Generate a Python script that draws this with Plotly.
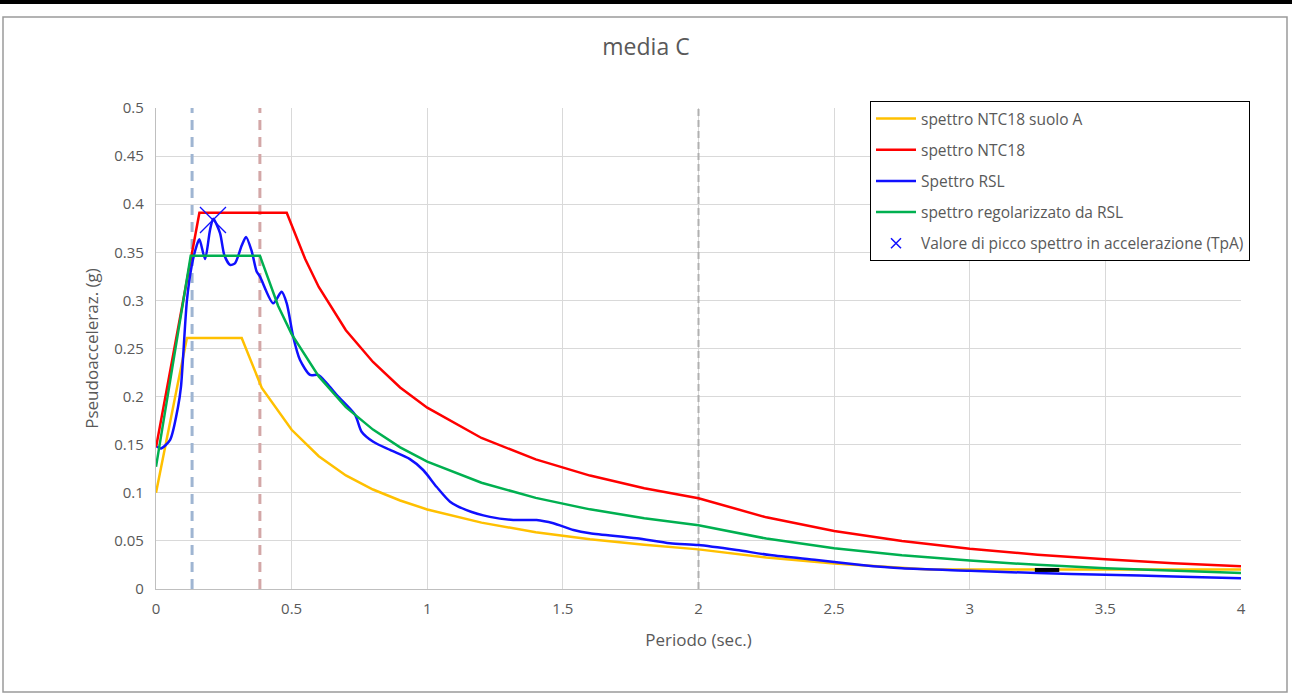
import plotly.graph_objects as go

# spettro NTC18 suolo A
t_a = [0, 0.114, 0.316, 0.39, 0.5, 0.6, 0.7, 0.8, 0.9, 1.0, 1.2, 1.4, 1.6, 1.8, 2.0,
       2.25, 2.5, 2.75, 2.85, 3.0, 3.5, 4.0]
sa_a = [0.1, 0.261, 0.261, 0.209, 0.1655, 0.138, 0.118, 0.1034, 0.092, 0.0827, 0.069,
        0.059, 0.0517, 0.046, 0.0412, 0.0327, 0.0265, 0.0219, 0.0204, 0.0202, 0.0202, 0.0202]

# spettro NTC18
t_ntc = [0, 0.16, 0.482, 0.55, 0.6, 0.7, 0.8, 0.9, 1.0, 1.2, 1.4, 1.6, 1.8, 2.0,
         2.25, 2.5, 2.75, 3.0, 3.25, 3.5, 3.75, 4.0]
sa_ntc = [0.147, 0.391, 0.391, 0.343, 0.314, 0.269, 0.236, 0.2095, 0.1885, 0.157, 0.1347,
          0.1179, 0.1048, 0.0943, 0.0745, 0.0604, 0.0499, 0.0419, 0.0357, 0.0308, 0.0268, 0.0236]

# Spettro RSL
t_rsl = [0.004, 0.018, 0.052, 0.081, 0.092, 0.114, 0.131, 0.15, 0.16, 0.181, 0.199, 0.211,
         0.236, 0.252, 0.273, 0.291, 0.316, 0.332, 0.353, 0.371, 0.383, 0.432, 0.463, 0.482,
         0.506, 0.531, 0.568, 0.598, 0.629, 0.672, 0.734, 0.758, 0.801, 0.863, 0.936, 0.985,
         1.035, 1.084, 1.145, 1.231, 1.317, 1.403, 1.465, 1.539, 1.6, 1.772, 1.895, 2.0,
         2.141, 2.264, 2.436, 2.6, 2.75, 3.0, 3.25, 3.5, 3.75, 4.0]
sa_rsl = [0.148, 0.146, 0.155, 0.189, 0.21, 0.3, 0.335, 0.357, 0.3635, 0.343, 0.373, 0.385,
          0.37, 0.347, 0.337, 0.3385, 0.357, 0.366, 0.351, 0.33, 0.325, 0.297, 0.309, 0.297,
          0.262, 0.238, 0.2225, 0.2225, 0.214, 0.2, 0.181, 0.1635, 0.153, 0.1445, 0.135, 0.1237,
          0.106, 0.0908, 0.082, 0.075, 0.0717, 0.0717, 0.0683, 0.0613, 0.0579, 0.0527, 0.0475, 0.0457,
          0.0405, 0.0353, 0.0301, 0.025, 0.0215, 0.019, 0.0166, 0.0148, 0.013, 0.0111]

# spettro regolarizzato da RSL
t_reg = [0, 0.128, 0.383, 0.45, 0.5, 0.6, 0.7, 0.8, 0.9, 1.0, 1.2, 1.4, 1.6, 1.8, 2.0,
         2.25, 2.5, 2.75, 3.0, 3.25, 3.5, 3.75, 4.0]
sa_reg = [0.127, 0.3465, 0.3465, 0.2945, 0.265, 0.221, 0.189, 0.1657, 0.1473, 0.1325, 0.1105,
          0.0947, 0.0828, 0.0736, 0.0663, 0.0524, 0.0424, 0.0351, 0.0295, 0.0251, 0.0216, 0.0189, 0.0166]

# valore di picco (TpA)
t_peak = [0.21]
sa_peak = [0.3836]

# linee verticali tratteggiate
t_tb = [0.133, 0.133]
t_tc = [0.383, 0.383]
t_td = [2.0, 2.0]
v_lim = [0, 0.5]

# piccolo segmento nero
t_blk = [3.24, 3.33]
sa_blk = [0.0198, 0.0198]

fig = go.Figure()

fig.add_trace(go.Scatter(x=t_tb, y=v_lim, mode="lines", showlegend=False, hoverinfo="skip",
                         line=dict(color="#9fb5d2", width=3, dash="10px,7px")))
fig.add_trace(go.Scatter(x=t_tc, y=v_lim, mode="lines", showlegend=False, hoverinfo="skip",
                         line=dict(color="#d3a7a7", width=3, dash="10px,7px")))
fig.add_trace(go.Scatter(x=t_td, y=v_lim, mode="lines", showlegend=False, hoverinfo="skip",
                         line=dict(color="#b0b0b0", width=2, dash="7px,4px")))

fig.add_trace(go.Scatter(x=t_a, y=sa_a, mode="lines", name="spettro NTC18 suolo A",
                         legendgroup="a", line=dict(color="#ffc000", width=2.5)))
fig.add_trace(go.Scatter(x=t_ntc, y=sa_ntc, mode="lines", name="spettro NTC18",
                         legendgroup="b", line=dict(color="#ff0000", width=2.5)))
fig.add_trace(go.Scatter(x=t_rsl, y=sa_rsl, mode="lines", name="Spettro RSL",
                         legendgroup="c", line=dict(color="#1010ff", width=2.5, shape="spline", smoothing=0.7)))
fig.add_trace(go.Scatter(x=t_reg, y=sa_reg, mode="lines", name="spettro regolarizzato da RSL",
                         legendgroup="d", line=dict(color="#00b050", width=2.5)))
fig.add_trace(go.Scatter(x=t_blk, y=sa_blk, mode="lines", showlegend=False, hoverinfo="skip",
                         line=dict(color="black", width=4)))
fig.add_trace(go.Scatter(x=t_peak, y=sa_peak, mode="markers", showlegend=False, legendgroup="e",
                         marker=dict(symbol="x-thin", size=26, color="#1010ff",
                                     line=dict(color="#1010ff", width=1.3))))
# voce di legenda con marker piccolo
fig.add_trace(go.Scatter(x=[None], y=[None], mode="markers",
                         name="Valore di picco spettro in accelerazione (TpA)", legendgroup="e",
                         marker=dict(symbol="x-thin", size=10, color="#1010ff",
                                     line=dict(color="#1010ff", width=1.5))))

font_fam = "Open Sans, Liberation Sans, sans-serif"

fig.update_layout(
    width=1292, height=698,
    margin=dict(l=156, r=51, t=108, b=109),
    paper_bgcolor="white", plot_bgcolor="white",
    font=dict(family=font_fam, size=15, color="#595959"),
    title=dict(text="media C", x=0.5, xref="container", xanchor="center",
               y=1 - 47 / 698, yref="container", yanchor="middle",
               font=dict(size=23, color="#595959")),
    xaxis=dict(range=[0, 4], tickvals=[0, 0.5, 1, 1.5, 2, 2.5, 3, 3.5, 4],
               ticktext=["0", "0.5", "1", "1.5", "2", "2.5", "3", "3.5", "4"],
               tickfont=dict(size=15), ticklabelstandoff=6,
               showgrid=True, gridcolor="#d9d9d9", gridwidth=1.3,
               showline=True, linecolor="#bfbfbf", linewidth=1.3,
               zeroline=False, ticks="",
               title=dict(text="Periodo (sec.)", font=dict(size=17, color="#595959"), standoff=16)),
    yaxis=dict(range=[0, 0.5], tickvals=[0, 0.05, 0.1, 0.15, 0.2, 0.25, 0.3, 0.35, 0.4, 0.45, 0.5],
               ticktext=["0", "0.05", "0.1", "0.15", "0.2", "0.25", "0.3", "0.35", "0.4", "0.45", "0.5"],
               tickfont=dict(size=15), ticklabelstandoff=8,
               showgrid=True, gridcolor="#d9d9d9", gridwidth=1.3,
               showline=True, linecolor="#bfbfbf", linewidth=1.3,
               zeroline=False, ticks="",
               title=dict(text="Pseudoacceleraz. (g)", font=dict(size=17, color="#595959"), standoff=11)),
    legend=dict(x=(870 - 156) / 1085, y=(589 - 101) / 481, xanchor="left", yanchor="top",
                bgcolor="white", bordercolor="black", borderwidth=1,
                font=dict(size=15.5, color="#595959"), tracegroupgap=8, itemwidth=40),
    showlegend=True,
)

# cornice del grafico e linea nera superiore
fig.add_shape(type="rect", xref="paper", yref="paper",
              x0=(3 - 156) / 1085, x1=(1287 - 156) / 1085,
              y0=(589 - 692) / 481, y1=(589 - 17) / 481,
              line=dict(color="#9a9a9a", width=1.5), layer="below")
fig.add_shape(type="line", xref="paper", yref="paper",
              x0=-156 / 1085, x1=(1292 - 156) / 1085,
              y0=(589 - 2) / 481, y1=(589 - 2) / 481,
              line=dict(color="black", width=4))

fig.write_html("out.html", config={"displayModeBar": False},
               post_script="document.body.style.margin='0';")
